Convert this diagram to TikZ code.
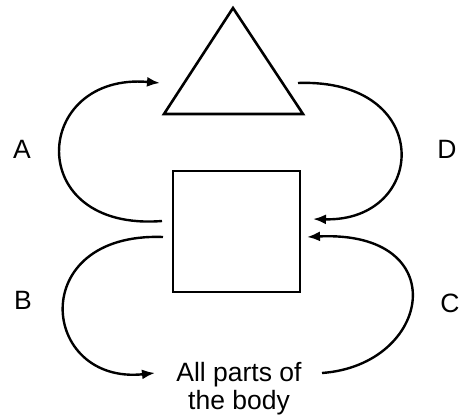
\documentclass[tikz,border=0pt]{standalone}
\usepackage{fontspec}
\setmainfont{Liberation Sans}
\usetikzlibrary{arrows.meta}
\begin{document}
\begin{tikzpicture}[x=1pt,y=-1pt,
  shape line/.style={line width=2.6pt, line join=miter},
  flow/.style={line width=2.4pt, -{Latex[length=13pt,width=10pt]}},
  lbl/.style={font=\fontsize{26.5}{28}\selectfont, inner sep=0pt}]
\useasboundingbox (0,0) rectangle (461,420);
% triangle
\coordinate (tA) at (233,8);
\coordinate (tL) at (164,114);
\coordinate (tR) at (303,114);
\draw[shape line] (tA) -- (tL) -- (tR) -- cycle;
% square
\node[draw, line width=2.6pt, minimum width=127pt, minimum height=121pt, inner sep=0pt] (sq) at (236.5,231.5) {};
% text
\node[lbl, align=center] (body) at (239,389) {All parts of\\the body};
% endpoints
\coordinate (a1) at (162,221);
\coordinate (a2) at (160,83);
\coordinate (d1) at (298,83);
\coordinate (d2) at (313,219);
\coordinate (b1) at (163,237);
\coordinate (b2) at (155,373);
\coordinate (c1) at (322,373);
\coordinate (c2) at (307,237);
\draw[flow] (a1) .. controls (22,232) and (32,72) .. (a2);
\draw[flow] (d1) .. controls (435,78) and (428,222) .. (d2);
\draw[flow] (b1) .. controls (25,232) and (40,385) .. (b2);
\draw[flow] (c1) .. controls (432,365) and (455,230) .. (c2);
% labels
\node[lbl] (lA) at (22,149) {A};
\node[lbl] (lD) at (447,149) {D};
\node[lbl] (lB) at (23,300) {B};
\node[lbl] (lC) at (450,303) {C};
\end{tikzpicture}
\end{document}
